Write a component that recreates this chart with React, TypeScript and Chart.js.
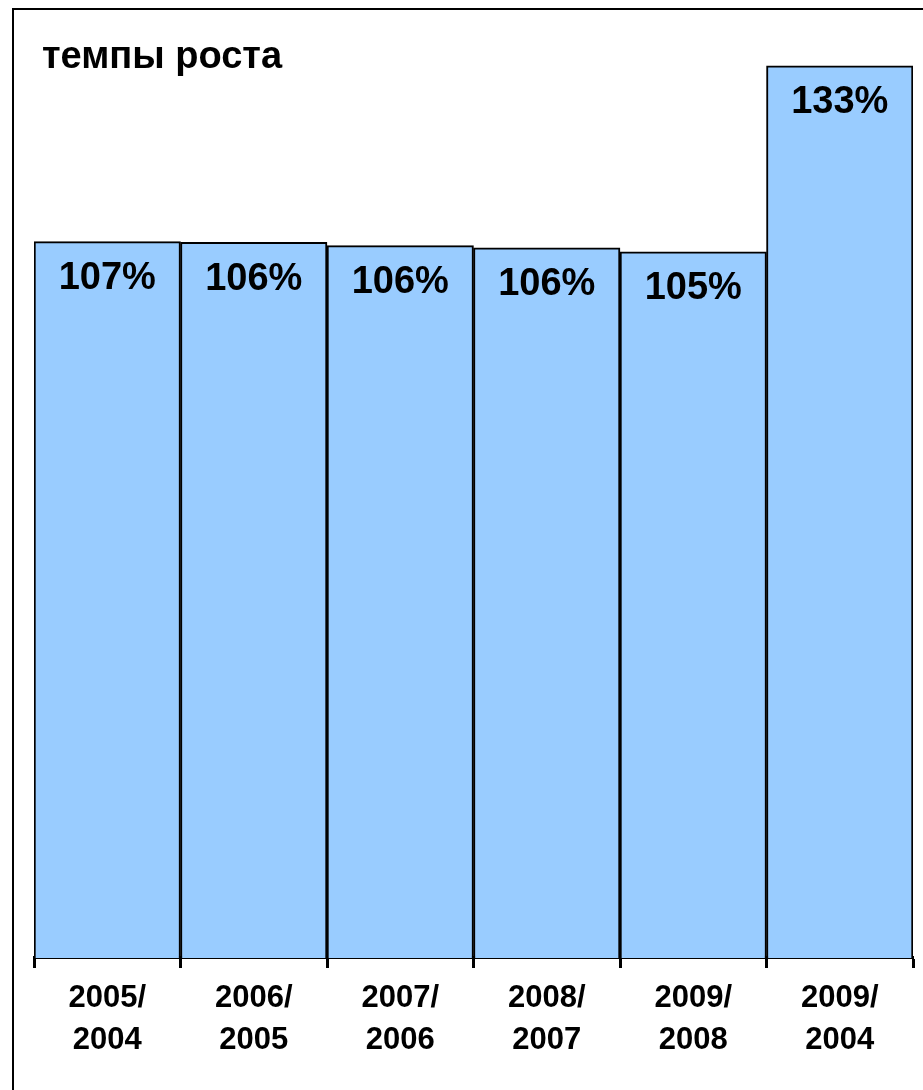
import React, { useEffect, useRef } from "react";
import { Chart, registerables } from "chart.js";

Chart.register(...registerables);

const categories: string[][] = [
  ["2005/", "2004"],
  ["2006/", "2005"],
  ["2007/", "2006"],
  ["2008/", "2007"],
  ["2009/", "2008"],
  ["2009/", "2004"],
];
const growthValues: number[] = [106.8, 106.7, 106.2, 105.9, 105.3, 133];
const valueLabels: string[] = ["107%", "106%", "106%", "106%", "105%", "133%"];
const title = "темпы роста";

const FONT = "'Liberation Sans', Arial, sans-serif";

export default function App() {
  const ref = useRef<HTMLCanvasElement | null>(null);

  useEffect(() => {
    if (!ref.current) return;
    const framePlugin = {
      id: "framePlugin",
      beforeDraw(chart: any) {
        const ctx = chart.ctx;
        ctx.save();
        ctx.fillStyle = "#ffffff";
        ctx.fillRect(0, 0, chart.width, chart.height);
        ctx.strokeStyle = "#000000";
        ctx.lineWidth = 2;
        ctx.strokeRect(13, 9, chart.width + 20, chart.height + 20);
        ctx.fillStyle = "#000000";
        ctx.font = `bold 38px ${FONT}`;
        ctx.textBaseline = "alphabetic";
        ctx.textAlign = "left";
        ctx.fillText(title, 42, 68);
        ctx.restore();
      },
      afterDatasetsDraw(chart: any) {
        const ctx = chart.ctx;
        const meta = chart.getDatasetMeta(0);
        ctx.save();
        ctx.fillStyle = "#000000";
        ctx.font = `bold 38px ${FONT}`;
        ctx.textAlign = "center";
        ctx.textBaseline = "middle";
        meta.data.forEach((el: any, i: number) => {
          ctx.fillText(valueLabels[i], el.x, el.y + 37);
        });
        ctx.restore();
      },
    };

    const chart = new Chart(ref.current, {
      type: "bar",
      data: {
        labels: categories,
        datasets: [
          {
            data: growthValues,
            backgroundColor: "#99CCFF",
            borderColor: "#000000",
            borderWidth: 2,
            categoryPercentage: 1,
            barPercentage: 1,
          },
        ],
      },
      options: {
        animation: false,
        responsive: false,
        maintainAspectRatio: false,
        devicePixelRatio: 1,
        layout: { padding: { left: 34, right: 10, top: 19, bottom: 20 } },
        plugins: {
          legend: { display: false },
          tooltip: { enabled: false },
          title: { display: false },
        },
        scales: {
          y: {
            display: false,
            min: 0,
            max: 140,
          },
          x: {
            grid: {
              drawOnChartArea: false,
              drawTicks: true,
              tickLength: 10,
              tickWidth: 3,
              tickColor: "#000000",
              offset: true,
            },
            border: { display: true, color: "#000000", width: 3 },
            ticks: {
              color: "#000000",
              padding: 9,
              maxRotation: 0,
              font: { family: FONT, size: 31, weight: "bold", lineHeight: 1.355 },
            },
          },
        },
      },
      plugins: [framePlugin],
    });
    return () => chart.destroy();
  }, []);

  return (
    <div style={{ position: "absolute", left: 0, top: 0, width: 923, height: 1090, overflow: "hidden" }}>
      <canvas ref={ref} width={923} height={1090} style={{ display: "block" }} />
    </div>
  );
}
